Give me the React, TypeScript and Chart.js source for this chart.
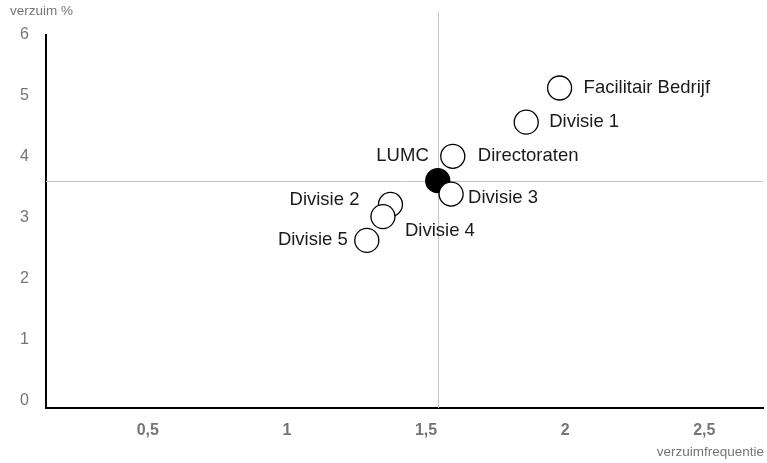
import React, { useEffect, useRef } from "react";
import { Chart, registerables } from "chart.js";

Chart.register(...registerables);

// ---- data ----
const divisionNames = [
  "Facilitair Bedrijf",
  "Divisie 1",
  "Directoraten",
  "Divisie 3",
  "Divisie 2",
  "Divisie 4",
  "Divisie 5",
];
const divisionFrequentie = [1.98, 1.86, 1.596, 1.59, 1.372, 1.345, 1.287];
const divisionVerzuim = [5.13, 4.57, 4.01, 3.39, 3.22, 3.02, 2.63];
const lumcName = "LUMC";
const lumcFrequentie = 1.542;
const lumcVerzuim = 3.61;
const xTickValues = [0.5, 1, 1.5, 2, 2.5];
const yTickValues = [0, 1, 2, 3, 4, 5, 6];
const xTitle = "verzuimfrequentie";
const yTitle = "verzuim %";

// ---- label placement (style only) ----
type Placement = { dx: number; dy: number; align: CanvasTextAlign };
const divisionLabelPlacement: Placement[] = [
  { dx: 24, dy: 0, align: "left" },
  { dx: 23, dy: 0, align: "left" },
  { dx: 25, dy: 0, align: "left" },
  { dx: 17, dy: 4, align: "left" },
  { dx: -31, dy: -5, align: "right" },
  { dx: 22, dy: 14, align: "left" },
  { dx: -19, dy: 0, align: "right" },
];
const lumcLabelPlacement: Placement = { dx: -9, dy: -25, align: "right" };

const FONT = "'Liberation Sans', Arial, sans-serif";
const GREY = "#757575";

const refLinesPlugin = {
  id: "refLines",
  beforeDatasetsDraw(chart: any) {
    const { ctx, chartArea, scales } = chart;
    const px = scales.x.getPixelForValue(lumcFrequentie);
    const py = scales.y.getPixelForValue(lumcVerzuim);
    ctx.save();
    ctx.strokeStyle = "#c4c4c4";
    ctx.lineWidth = 1;
    ctx.beginPath();
    ctx.moveTo(Math.round(px) + 0.5, 12);
    ctx.lineTo(Math.round(px) + 0.5, chartArea.bottom);
    ctx.moveTo(chartArea.left, Math.round(py) + 0.5);
    ctx.lineTo(chartArea.right, Math.round(py) + 0.5);
    ctx.stroke();
    ctx.restore();
  },
};

const labelsPlugin = {
  id: "pointLabels",
  afterDatasetsDraw(chart: any) {
    const { ctx } = chart;
    ctx.save();
    ctx.font = `18.5px ${FONT}`;
    ctx.fillStyle = "#1a1a1a";
    ctx.textBaseline = "middle";
    const divMeta = chart.getDatasetMeta(0);
    divMeta.data.forEach((pt: any, i: number) => {
      const p = divisionLabelPlacement[i];
      ctx.textAlign = p.align;
      ctx.fillText(divisionNames[i], pt.x + p.dx, pt.y + p.dy);
    });
    const lumcMeta = chart.getDatasetMeta(1);
    const lp = lumcMeta.data[0];
    ctx.textAlign = lumcLabelPlacement.align;
    ctx.fillText(lumcName, lp.x + lumcLabelPlacement.dx, lp.y + lumcLabelPlacement.dy);

    // axis titles
    ctx.font = `13.5px ${FONT}`;
    ctx.fillStyle = GREY;
    ctx.textAlign = "left";
    ctx.fillText(yTitle, 10, 11);
    ctx.textAlign = "right";
    ctx.fillText(xTitle, 764, 452);
    ctx.restore();
  },
};

export default function App() {
  const canvasRef = useRef<HTMLCanvasElement | null>(null);

  useEffect(() => {
    if (!canvasRef.current) return;
    const chart = new Chart(canvasRef.current, {
      type: "scatter",
      data: {
        datasets: [
          {
            label: "divisies",
            data: divisionFrequentie.map((x, i) => ({ x, y: divisionVerzuim[i] })),
            backgroundColor: "#ffffff",
            borderColor: "#000000",
            borderWidth: 1.3,
            pointRadius: 12,
            pointHoverRadius: 12,
          },
          {
            label: lumcName,
            data: [{ x: lumcFrequentie, y: lumcVerzuim }],
            backgroundColor: "#000000",
            borderColor: "#000000",
            borderWidth: 1.3,
            pointRadius: 12,
            pointHoverRadius: 12,
          },
        ],
      },
      options: {
        animation: false,
        responsive: true,
        maintainAspectRatio: false,
        layout: { autoPadding: false, padding: { top: 35, right: 4, left: 0, bottom: 0 } },
        plugins: {
          legend: { display: false },
          tooltip: { enabled: false },
          title: { display: false },
        },
        scales: {
          x: {
            type: "linear",
            min: 0.134,
            max: 2.711,
            grid: { display: false, drawTicks: false },
            border: { display: true, color: "#000000", width: 2 },
            afterBuildTicks: (scale: any) => {
              scale.ticks = xTickValues.map((v) => ({ value: v }));
            },
            afterFit: (scale: any) => {
              scale.height = 55;
              scale.paddingLeft = 0;
              scale.paddingRight = 0;
            },
            ticks: {
              padding: 13,
              color: GREY,
              font: { family: FONT, size: 16, weight: "bold" },
              callback: (v: any) => String(v).replace(".", ","),
            },
          },
          y: {
            type: "linear",
            min: -0.12,
            max: 6,
            grid: { display: false, drawTicks: false },
            border: { display: true, color: "#000000", width: 2 },
            afterBuildTicks: (scale: any) => {
              scale.ticks = yTickValues.map((v) => ({ value: v }));
            },
            afterFit: (scale: any) => {
              scale.width = 46;
              scale.paddingTop = 0;
              scale.paddingBottom = 0;
            },
            ticks: {
              padding: 17,
              color: GREY,
              font: { family: FONT, size: 16 },
              callback: (v: any) => String(v),
            },
          },
        },
      },
      plugins: [refLinesPlugin, labelsPlugin],
    });
    return () => chart.destroy();
  }, []);

  return (
    <div style={{ position: "fixed", left: 0, top: 0, width: 767, height: 463, background: "#fff" }}>
      <canvas ref={canvasRef} />
    </div>
  );
}
